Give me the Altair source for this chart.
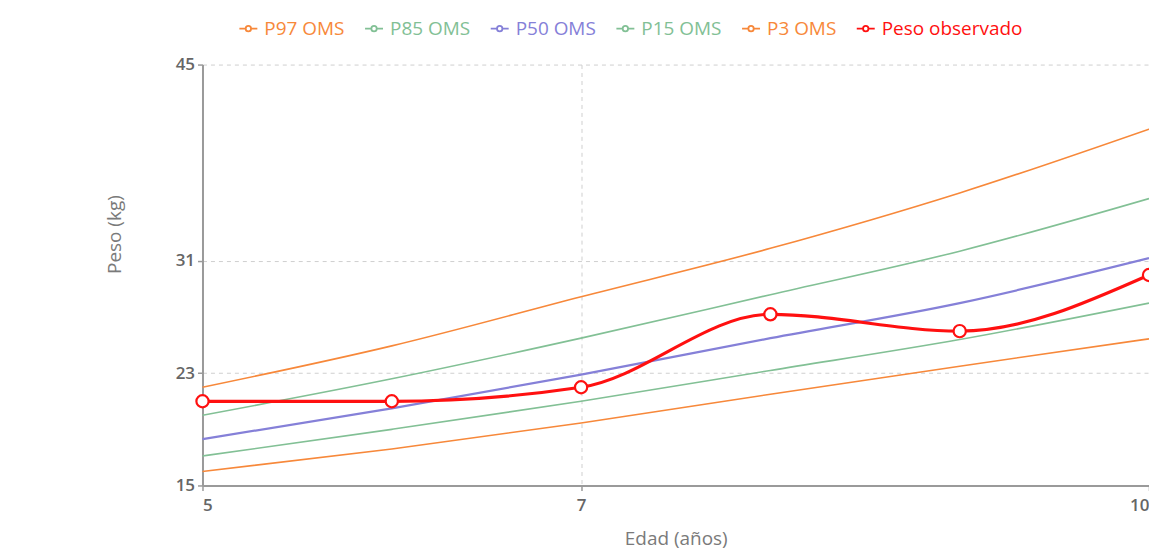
import altair as alt
import pandas as pd

# ---- data ----
ages = [5, 6, 7, 8, 9, 10]
p97 = [22.0, 24.95, 28.45, 31.9, 35.85, 40.4]
p85 = [20.0, 22.6, 25.5, 28.6, 31.7, 35.45]
p50 = [18.3, 20.5, 22.9, 25.5, 28.0, 31.2]
p15 = [17.1, 19.0, 21.0, 23.2, 25.4, 28.0]
p3 = [16.0, 17.6, 19.45, 21.5, 23.5, 25.45]
observed = [21.0, 21.0, 22.0, 27.2, 26.0, 30.0]

series_names = ["P97 OMS", "P85 OMS", "P50 OMS", "P15 OMS", "P3 OMS", "Peso observado"]
series_colors = ["#f7883a", "#82c095", "#8580d8", "#82c095", "#f7883a", "#ff1010"]

x_ticks = [5, 7, 10]
y_ticks = [15, 23, 31, 45]

# ---- build table ----
rows = []
for name, vals in zip(series_names, [p97, p85, p50, p15, p3, observed]):
    for a, v in zip(ages, vals):
        rows.append({"serie": name, "edad": a, "peso": v})
df = pd.DataFrame(rows)

FONT = "Open Sans"

x_enc = alt.X("edad:Q", title="Edad (años)",
              scale=alt.Scale(domain=[5, 10], nice=False, zero=False),
              axis=alt.Axis(values=x_ticks, format="d", titlePadding=16, labelPadding=7))
y_enc = alt.Y("peso:Q", title="Peso (kg)",
              scale=alt.Scale(domain=[15, 45], nice=False, zero=False),
              axis=alt.Axis(values=y_ticks, format="d", labelPadding=3,
                            titleX=-78, titleY=170))

color_enc = alt.Color(
    "serie:N",
    scale=alt.Scale(domain=series_names, range=series_colors),
    sort=series_names,
    legend=alt.Legend(
        orient="none", direction="horizontal", title=None,
        legendX=36, legendY=-46,
        symbolType="M-1,0H-0.3M0.3,0H1M0.3,0A0.3,0.3,0,1,1,-0.3,0A0.3,0.3,0,1,1,0.3,0",
        symbolSize=324, symbolStrokeWidth=1.8, symbolFillColor="white",
        labelFont=FONT, labelFontSize=19, labelFontWeight=500, labelOffset=6,
        columnPadding=16,
        labelColor=alt.ExprRef("scale('color', datum.value)"),
    ),
)

base = alt.Chart(df)

thin = base.transform_filter(
    (alt.datum.serie != "Peso observado") & (alt.datum.serie != "P50 OMS")
).mark_line(interpolate="monotone", strokeWidth=1.6).encode(
    x=x_enc, y=y_enc, color=color_enc, detail="serie:N")

median = base.transform_filter(alt.datum.serie == "P50 OMS").mark_line(
    interpolate="monotone", strokeWidth=2.2).encode(x=x_enc, y=y_enc, color=color_enc)

obs_line = base.transform_filter(alt.datum.serie == "Peso observado").mark_line(
    interpolate="monotone", strokeWidth=3.2).encode(x=x_enc, y=y_enc, color=color_enc)

obs_points = base.transform_filter(alt.datum.serie == "Peso observado").mark_point(
    filled=True, fill="white", stroke="#ff1010", strokeWidth=2.2, size=150, opacity=1
).encode(x="edad:Q", y="peso:Q")

chart = alt.layer(thin, median, obs_line, obs_points).properties(
    width=949, height=422,
    autosize=alt.AutoSizeParams(type="none"),
    padding={"left": 195, "top": 56, "right": 0, "bottom": 65},
).configure_view(stroke=None).configure_axis(
    domainColor="#9a9a9a", domainWidth=2,
    tickColor="#9a9a9a", tickSize=5, tickWidth=1.5,
    gridColor="#cfcfcf", gridDash=[4, 4], gridWidth=1,
    labelColor="#666666", labelFont=FONT, labelFontSize=17, labelFontWeight=600,
    titleColor="#7a7a7a", titleFont=FONT, titleFontSize=19, titleFontWeight=500,
)

chart.save("out.html", embed_options={"renderer": "svg", "actions": False})
